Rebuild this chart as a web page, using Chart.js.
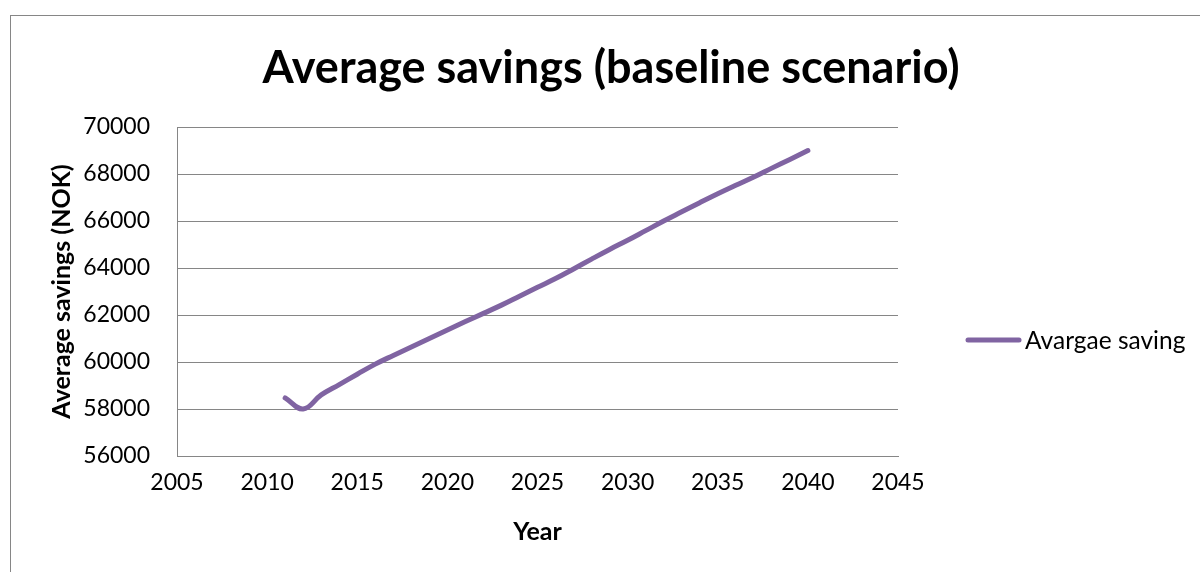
<!DOCTYPE html>
<html>
<head>
<meta charset="utf-8">
<script src="https://cdn.jsdelivr.net/npm/chart.js@4/dist/chart.umd.min.js"></script>
<style>
  html, body { margin: 0; padding: 0; background: #ffffff; }
  #wrap { position: relative; width: 1200px; height: 572px; overflow: hidden; }
</style>
</head>
<body>
<div id="wrap"><canvas id="chart" width="1200" height="572"></canvas></div>
<script>
// Average savings per year, baseline scenario (NOK)
const years = [2011, 2012, 2013, 2014, 2015, 2016, 2017, 2018, 2019, 2020,
               2021, 2022, 2023, 2024, 2025, 2026, 2027, 2028, 2029, 2030,
               2031, 2032, 2033, 2034, 2035, 2036, 2037, 2038, 2039, 2040];
const savings = [58470, 58000, 58600, 59040, 59480, 59910, 60280, 60640, 61000, 61360,
                 61720, 62070, 62420, 62800, 63180, 63550, 63960, 64380, 64790, 65180,
                 65590, 66000, 66390, 66780, 67160, 67520, 67870, 68250, 68620, 69000];
const xTicks = [2005, 2010, 2015, 2020, 2025, 2030, 2035, 2040, 2045];
const yTicks = [56000, 58000, 60000, 62000, 64000, 66000, 68000, 70000];

const seriesLabel = 'Avargae saving';
const chartTitle = 'Average savings (baseline scenario)';
const xTitle = 'Year';
const yTitle = 'Average savings (NOK)';

const FONT = 'Lato, "Open Sans", sans-serif';
const GRID = '#868686';
const LINE = '#8064A2';

// outer frame of the chart object and the centred chart title
const framePlugin = {
  id: 'frame',
  beforeDraw(chart) {
    const ctx = chart.ctx;
    ctx.save();
    ctx.fillStyle = '#ffffff';
    ctx.fillRect(0, 0, chart.width, chart.height);
    ctx.strokeStyle = GRID;
    ctx.lineWidth = 1;
    ctx.strokeRect(10.5, 15.5, 1400, 800);
    ctx.fillStyle = '#000000';
    ctx.font = 'bold 45px ' + FONT;
    ctx.textAlign = 'center';
    ctx.textBaseline = 'middle';
    ctx.fillText(chartTitle, 611, 68);
    ctx.restore();
  }
};

// single-entry legend to the right of the plot
const sideLegend = {
  id: 'sideLegend',
  afterDraw(chart) {
    const ds = chart.data.datasets[0];
    const ctx = chart.ctx;
    const y = 340;
    ctx.save();
    ctx.strokeStyle = ds.borderColor;
    ctx.lineWidth = ds.borderWidth;
    ctx.lineCap = 'round';
    ctx.beginPath();
    ctx.moveTo(968, y);
    ctx.lineTo(1019, y);
    ctx.stroke();
    ctx.fillStyle = '#000000';
    ctx.font = '24.5px ' + FONT;
    ctx.textBaseline = 'middle';
    ctx.textAlign = 'left';
    ctx.fillText(ds.label, 1025, y + 1);
    ctx.restore();
  }
};

new Chart(document.getElementById('chart'), {
  type: 'line',
  data: {
    datasets: [{
      label: seriesLabel,
      data: years.map((yr, i) => ({ x: yr, y: savings[i] })),
      borderColor: LINE,
      backgroundColor: LINE,
      borderWidth: 5,
      borderCapStyle: 'round',
      borderJoinStyle: 'round',
      pointRadius: 0,
      tension: 0.4,
      fill: false
    }]
  },
  options: {
    responsive: false,
    animation: false,
    devicePixelRatio: 1,
    layout: { padding: { left: 10, top: 127, right: 302, bottom: 0 } },
    plugins: {
      legend: { display: false },
      tooltip: { enabled: false },
      title: { display: false }
    },
    scales: {
      x: {
        type: 'linear',
        min: xTicks[0],
        max: xTicks[xTicks.length - 1],
        afterBuildTicks(scale) { scale.ticks = xTicks.map(v => ({ value: v })); },
        afterFit(scale) { scale.height = 116; },
        grid: { display: false, drawTicks: false },
        border: { display: true, color: GRID, width: 1 },
        ticks: {
          color: '#000000',
          padding: 13,
          maxRotation: 0,
          font: { family: FONT, size: 23 },
          callback: v => String(v)
        },
        title: {
          display: true,
          text: xTitle,
          color: '#000000',
          font: { family: FONT, size: 25, weight: 'bold', lineHeight: 1.2 },
          padding: { top: 0, bottom: 25 }
        }
      },
      y: {
        type: 'linear',
        min: yTicks[0],
        max: yTicks[yTicks.length - 1],
        afterBuildTicks(scale) { scale.ticks = yTicks.map(v => ({ value: v })); },
        afterFit(scale) { scale.width = 167; },
        grid: { color: GRID, lineWidth: 1, drawTicks: false },
        border: { display: true, color: GRID, width: 1 },
        ticks: {
          color: '#000000',
          padding: 27,
          font: { family: FONT, size: 23 },
          callback: v => String(v)
        },
        title: {
          display: true,
          text: yTitle,
          color: '#000000',
          font: { family: FONT, size: 25, weight: 'bold', lineHeight: 1.2 },
          padding: { top: 37, bottom: 0 }
        }
      }
    }
  },
  plugins: [framePlugin, sideLegend]
});
</script>
</body>
</html>
